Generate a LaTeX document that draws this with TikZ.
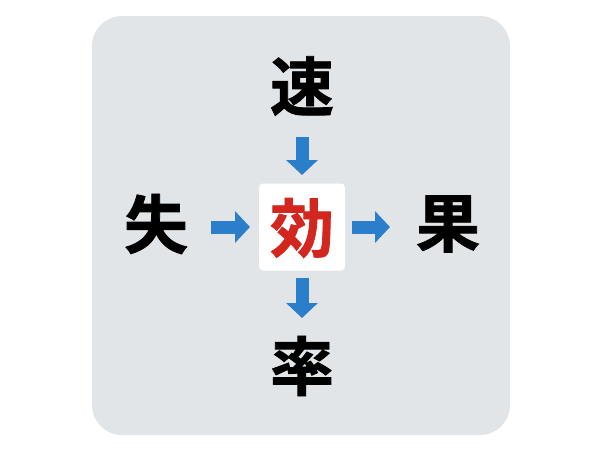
\documentclass[tikz,border=0pt]{standalone}
\usepackage{fontspec}
\newfontfamily\cjk{Noto Sans CJK JP}[BoldFont={* Bold}, BoldFeatures={FakeBold=1.2}]
\usetikzlibrary{arrows.meta}
\definecolor{panel}{HTML}{E2E5E8}
\definecolor{arrowblue}{HTML}{2B7FCA}
\definecolor{kred}{HTML}{D2261E}
\tikzset{
  kanji/.style={inner sep=0pt, font=\cjk\bfseries\fontsize{64}{64}\selectfont},
  blockarrow/.style={arrowblue, line width=13pt, -{Triangle[width=31pt,length=15pt]}}
}
\begin{document}
\begin{tikzpicture}[x=1pt,y=-1pt]
\useasboundingbox (0,0) rectangle (600,450);
\fill[panel, rounded corners=30pt] (92,16) rectangle (510,435);
\node[fill=white, rounded corners=4pt, minimum width=86pt, minimum height=87pt, inner sep=0pt] (ko) at (302,227) {};
\node[kanji, text=kred] (kotext) at (302,228) {効};
\node[kanji] (su) at (302,86) {速};
\node[kanji] (shi) at (156,224) {失};
\node[kanji] (ka) at (448,224) {果};
\node[kanji] (ri) at (302,366) {率};
\draw[blockarrow, shorten <=51pt, shorten >=52pt] (su.center) -- (ko.center);
\draw[blockarrow, shorten <=55pt, shorten >=52pt] ([yshift=-3pt]shi.center) -- (ko.center);
\draw[blockarrow, shorten <=50pt, shorten >=58pt] (ko.center) -- ([yshift=-3pt]ka.center);
\draw[blockarrow, shorten <=51pt, shorten >=48pt] (ko.center) -- (ri.center);
\end{tikzpicture}
\end{document}
